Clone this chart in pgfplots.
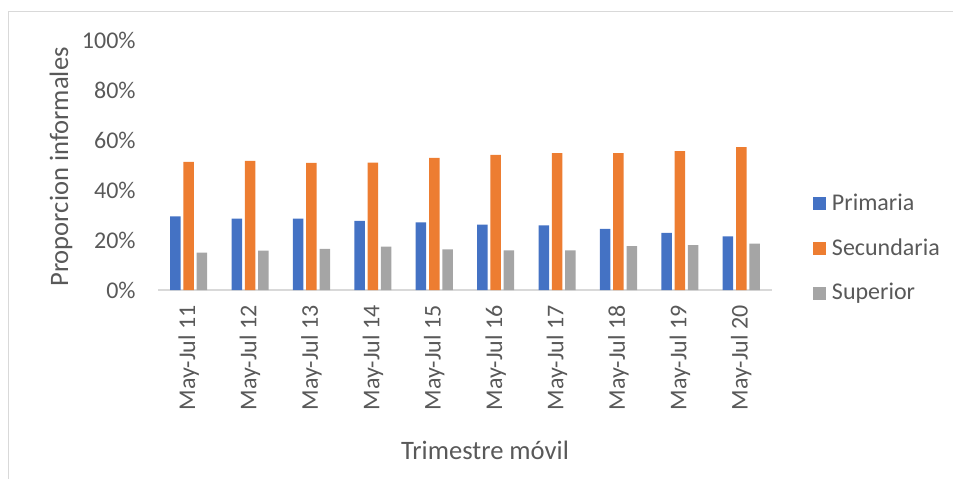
\documentclass[border=0pt]{standalone}
\usepackage{pgfplots}
\pgfplotsset{compat=1.18}
\usepackage{pgfplotstable}
\usepackage{fontspec}
\setmainfont{Carlito}

\definecolor{cPrim}{HTML}{4472C4}
\definecolor{cSec}{HTML}{ED7D31}
\definecolor{cSup}{HTML}{A5A5A5}
\definecolor{txtgray}{HTML}{595959}
\definecolor{axisgray}{HTML}{D9D9D9}
\definecolor{framegray}{HTML}{D9D9D9}

% share of informal workers by education level, May-Jul of each year
\pgfplotstableread{
idx prim sec sup
0 29.5 51.3 15.0
1 28.6 51.7 15.8
2 28.6 50.9 16.5
3 27.7 51.0 17.4
4 27.1 52.9 16.3
5 26.2 54.1 15.9
6 25.9 54.8 15.9
7 24.5 54.8 17.6
8 22.9 55.6 18.0
9 21.5 57.2 18.6
}\datatable

\begin{document}
\begin{tikzpicture}
\useasboundingbox (0,0) rectangle (476.5pt,239pt);
\draw[framegray, line width=0.6pt] (4.25pt,-2pt) -- (4.25pt,233.25pt) -- (480pt,233.25pt);
\begin{axis}[
  at={(79pt,94pt)}, anchor=south west,
  scale only axis,
  width=307pt, height=125pt,
  ybar=1.4pt, bar width=5.25pt,
  xmin=-0.5, xmax=9.5,
  ymin=0, ymax=100,
  enlargelimits=false,
  axis x line*=bottom, axis y line*=left,
  x axis line style={-, draw=axisgray, line width=0.9pt},
  y axis line style={draw=none},
  major tick length=0pt,
  xtick=data,
  xticklabels={May-Jul 11,May-Jul 12,May-Jul 13,May-Jul 14,May-Jul 15,May-Jul 16,May-Jul 17,May-Jul 18,May-Jul 19,May-Jul 20},
  ytick={0,20,40,60,80,100},
  yticklabel={\pgfmathprintnumber{\tick}\%},
  /pgf/number format/assume math mode=true,
  tick label style={font=\fontsize{12}{14}\selectfont, text=txtgray},
  xticklabel style={rotate=90, anchor=east, inner sep=0pt},
  xticklabel shift=7.5pt,
  yticklabel style={anchor=east, inner sep=0pt},
  yticklabel shift=11pt,
  ylabel={Proporcion informales},
  xlabel={Trimestre móvil},
  label style={font=\fontsize{13.3}{15}\selectfont, text=txtgray},
  ylabel style={at={([xshift=-48.5pt,yshift=-1pt]axis description cs:0,0.5)}, anchor=center, rotate=0},
  xlabel style={at={([xshift=10pt,yshift=-80pt]axis description cs:0.5,0)}, anchor=center},
  legend cell align=left,
  legend style={
    at={([xshift=20.5pt,yshift=49pt]axis description cs:1,0)}, anchor=north west,
    draw=none, fill=none, inner sep=0pt,
    font=\fontsize{12}{14}\selectfont, text=txtgray,
    row sep=10.35pt,
    nodes={inner sep=0pt, text height=9pt, text depth=3pt},
    /tikz/every odd column/.append style={column sep=2.8pt},
  },
  legend image code/.code={\fill[#1] (0pt,-3pt) rectangle (6.5pt,3.5pt);},
]
\addplot[fill=cPrim, draw=none] table[x=idx, y=prim] {\datatable};
\addplot[fill=cSec, draw=none] table[x=idx, y=sec] {\datatable};
\addplot[fill=cSup, draw=none] table[x=idx, y=sup] {\datatable};
\legend{Primaria, Secundaria, Superior}
\end{axis}
\end{tikzpicture}
\end{document}
